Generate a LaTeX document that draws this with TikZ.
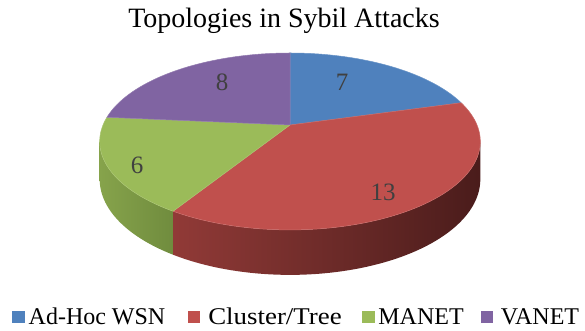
\documentclass[tikz,border=0pt]{standalone}
\usepackage{fontspec}
\setmainfont{Liberation Serif}
\definecolor{cblue}{HTML}{4F81BD}
\definecolor{cred}{HTML}{C0504D}
\definecolor{cgreen}{HTML}{9BBB59}
\definecolor{cpurple}{HTML}{8064A2}
\definecolor{redsideL}{RGB}{145,58,55}
\definecolor{redsideR}{RGB}{74,28,27}
\definecolor{greensideL}{RGB}{134,163,75}
\definecolor{greensideR}{RGB}{112,140,62}
\definecolor{lblcol}{RGB}{64,64,64}
% perspective projection of the pie rim (angle in degrees)
\newcommand\pieX[1]{290+187*cos(#1)/(1+0.186*sin(#1))}
\newcommand\pieY[1]{125-85.4*sin(#1)/(1+0.186*sin(#1))}
\newcommand\pieYb[1]{125-(85.4*sin(#1)-36.6)/(1+0.186*sin(#1))}
\tikzset{
  lbl/.style={font=\fontsize{25}{25}\selectfont, text=lblcol, inner sep=0pt},
  legtext/.style={font=\fontsize{24}{24}\selectfont, text=black, inner sep=0pt, anchor=base},
  legbox/.style={minimum size=12.5pt, inner sep=0pt, draw=none},
  slice/.style={line width=0.5pt, line join=round}
}
\begin{document}
\begin{tikzpicture}[x=1pt,y=-1pt]
\useasboundingbox (0,0) rectangle (585,331);
\fill[white] (0,0) rectangle (585,331);
% title
\node[font=\fontsize{28}{28}\selectfont, inner sep=0pt, anchor=base] (title) at (284,28) {Topologies in Sybil Attacks};
% side walls
\shade[left color=greensideL, right color=greensideR]
  plot[domain=-169.3:-121.765, samples=40, variable=\t] ({\pieX{\t}},{\pieY{\t}})
  -- plot[domain=-121.765:-169.3, samples=40, variable=\t] ({\pieX{\t}},{\pieYb{\t}}) -- cycle;
\shade[left color=redsideL, right color=redsideR]
  plot[domain=-121.765:-10.7, samples=80, variable=\t] ({\pieX{\t}},{\pieY{\t}})
  -- plot[domain=-10.7:-121.765, samples=80, variable=\t] ({\pieX{\t}},{\pieYb{\t}}) -- cycle;
% top face slices
\coordinate (c) at (290,125);
\filldraw[slice, fill=cblue, draw=cblue!85!white]
  (c) -- plot[domain=90:15.882, samples=40, variable=\t] ({\pieX{\t}},{\pieY{\t}}) -- cycle;
\filldraw[slice, fill=cred, draw=cred!85!white]
  (c) -- plot[domain=15.882:-121.765, samples=80, variable=\t] ({\pieX{\t}},{\pieY{\t}}) -- cycle;
\filldraw[slice, fill=cgreen, draw=cgreen!85!white]
  (c) -- plot[domain=-121.765:-185.294, samples=40, variable=\t] ({\pieX{\t}},{\pieY{\t}}) -- cycle;
\filldraw[slice, fill=cpurple, draw=cpurple!85!white]
  (c) -- plot[domain=-185.294:-270, samples=40, variable=\t] ({\pieX{\t}},{\pieY{\t}}) -- cycle;
% data labels
\node[lbl] (l7) at (342,82) {7};
\node[lbl] (l8) at (222,82) {8};
\node[lbl] (l6) at (137,165) {6};
\node[lbl] (l13) at (383,192) {13};
% legend
\node[legbox, fill=cblue] (k1) at (18.5,317) {};
\node[legtext] (t1) at (97,324) {Ad-Hoc WSN};
\node[legbox, fill=cred] (k2) at (194,317) {};
\node[legtext] (t2) at (275,324) {\scalebox{1.12}[1]{Cluster/Tree}};
\node[legbox, fill=cgreen] (k3) at (368.5,317) {};
\node[legtext] (t3) at (421,324) {MANET};
\node[legbox, fill=cpurple] (k4) at (487,317) {};
\node[legtext] (t4) at (540,324) {VANET};
\end{tikzpicture}
\end{document}
